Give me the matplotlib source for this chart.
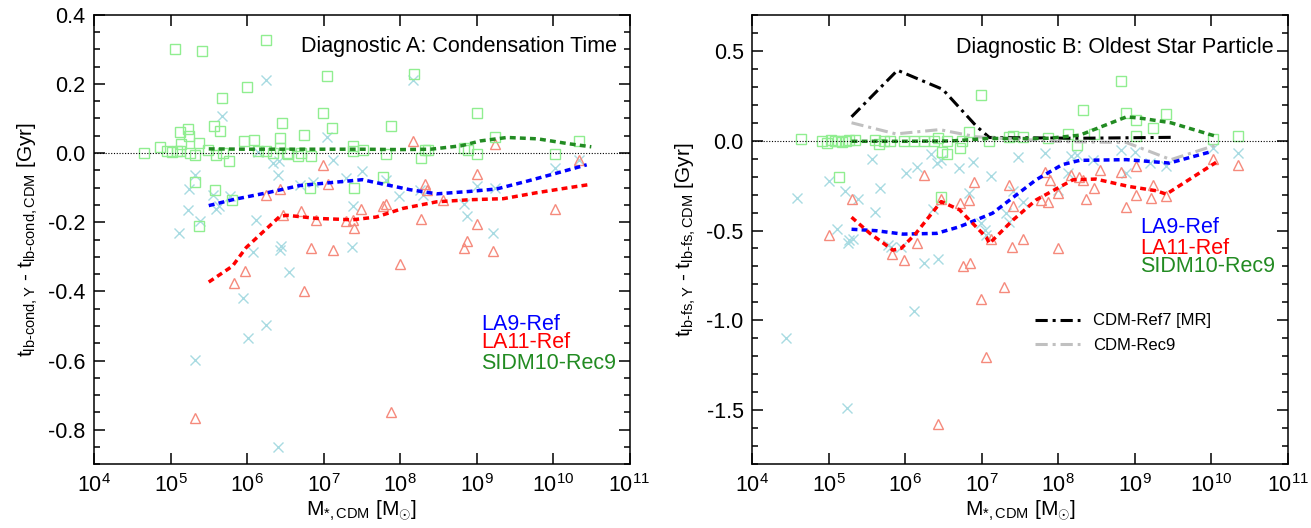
import numpy as np
import matplotlib
matplotlib.use("Agg")
import matplotlib.pyplot as plt
from matplotlib.ticker import MultipleLocator, LogLocator, NullLocator, FormatStrFormatter

plt.rcParams['font.family'] = ['Liberation Sans', 'DejaVu Sans']
plt.rcParams['mathtext.fontset'] = 'custom'
plt.rcParams['mathtext.rm'] = 'Liberation Sans'
plt.rcParams['mathtext.it'] = 'Liberation Sans:italic'
plt.rcParams['axes.unicode_minus'] = False

# ---- Panel A: condensation time (log10 M*, delta t in Gyr) ----
a_la9_logm = [6.25, 5.67, 7.05, 7.13, 6.34, 6.42, 6.41, 5.32, 5.24, 5.56, 5.78, 5.64, 5.60, 5.23,
              5.11, 5.38, 6.12, 6.69, 6.86, 7.30, 7.50, 7.39, 6.45, 7.37, 6.15, 6.08, 6.43, 6.55,
              5.95, 6.25, 6.01, 5.32, 6.40, 8.17, 7.82, 7.99, 8.26, 8.30, 8.83, 8.88, 9.01, 9.22,
              9.24, 10.02, 10.34]
a_la9_dt = [0.21, 0.108, 0.046, -0.019, -0.029, -0.023, -0.063, -0.063, -0.104, -0.12, -0.125,
            -0.154, -0.161, -0.164, -0.231, -0.197, -0.193, -0.093, -0.085, -0.072, -0.053, -0.154,
            -0.27, -0.271, 0.002, -0.287, -0.281, -0.345, -0.418, -0.497, -0.534, -0.599, -0.851,
            0.21, -0.077, -0.123, -0.106, -0.12, -0.146, -0.183, -0.096, -0.231, -0.101, -0.043,
            -0.019]

a_la11_logm = [6.99, 6.25, 6.43, 7.06, 6.47, 6.70, 6.90, 7.29, 7.39, 7.40, 7.49, 6.84, 7.13, 5.98,
               5.83, 6.74, 5.32, 8.00, 8.83, 8.88, 9.22, 7.88, 8.17, 9.24, 9.00, 8.32, 8.35, 8.56,
               7.78, 7.82, 8.27, 9.01, 10.02, 10.34]
a_la11_dt = [-0.036, -0.122, -0.104, -0.089, -0.178, -0.167, -0.193, -0.197, -0.193, -0.217, -0.162,
             -0.274, -0.279, -0.342, -0.377, -0.399, -0.765, -0.322, -0.274, -0.255, -0.284, -0.749,
             0.036, 0.027, -0.06, -0.089, -0.106, -0.137, -0.154, -0.146, -0.19, -0.204, -0.162,
             -0.021]

a_sidm_logm = [5.06, 5.41, 6.25, 7.05, 6.00, 5.67, 6.99, 6.46, 5.57, 5.65, 5.13, 5.23, 5.24, 7.11,
               6.74, 5.96, 6.09, 6.43, 5.37, 5.14, 4.86, 4.65, 4.95, 5.02, 5.08, 5.12, 5.25, 5.32,
               5.49, 5.60, 5.69, 5.77, 6.14, 6.25, 6.34, 6.43, 6.52, 6.54, 6.67, 6.71, 6.84, 7.39,
               7.39, 7.52, 5.32, 5.58, 5.81, 5.37, 6.82, 7.40, 8.18, 7.88, 9.00, 9.24, 7.82, 8.27,
               8.32, 8.37, 8.83, 8.89, 9.00, 10.02, 10.34, 7.78]
a_sidm_dt = [0.30, 0.296, 0.326, 0.223, 0.192, 0.158, 0.117, 0.088, 0.077, 0.063, 0.062, 0.069, 0.048,
             0.072, 0.051, 0.035, 0.038, 0.043, 0.029, 0.026, 0.017, -0.001, 0.005, 0.004, 0.006,
             0.005, 0.0, -0.005, 0.01, -0.005, 0.0, -0.024, 0.005, 0.005, 0.0, 0.015, 0.0, -0.002,
             -0.01, 0.0, -0.008, 0.019, 0.005, 0.01, -0.085, -0.106, -0.135, -0.212, -0.101, -0.101,
             0.229, 0.079, 0.115, 0.045, -0.002, -0.014, 0.01, 0.01, 0.015, 0.008, -0.002, -0.002,
             0.035, -0.069]

a_la9_med_logm = [5.50, 5.81, 6.26, 6.69, 7.12, 7.51, 7.61, 8.13, 8.48, 8.91, 9.26, 9.65, 10.05, 10.44]
a_la9_med_dt = [-0.152, -0.135, -0.115, -0.094, -0.085, -0.077, -0.082, -0.106, -0.118, -0.111,
                -0.104, -0.082, -0.058, -0.034]
a_la11_med_logm = [5.50, 5.81, 5.99, 6.43, 6.52, 6.91, 7.38, 7.69, 8.04, 8.48, 8.91, 9.35, 9.78, 10.21, 10.48]
a_la11_med_dt = [-0.373, -0.327, -0.273, -0.183, -0.180, -0.189, -0.193, -0.185, -0.160, -0.141,
                 -0.135, -0.132, -0.115, -0.100, -0.091]
a_sidm_med_logm = [5.5, 6.0, 6.5, 7.0, 7.5, 8.0, 8.4, 8.8, 9.05, 9.4, 9.8, 10.2, 10.5]
a_sidm_med_dt = [0.012, 0.011, 0.011, 0.011, 0.011, 0.010, 0.011, 0.021, 0.035, 0.045, 0.041, 0.027, 0.018]

# ---- Panel B: oldest star particle ----
b_la9_logm = [4.59, 5.57, 5.00, 5.22, 5.38, 5.67, 5.60, 5.11, 6.01, 6.15, 6.34, 6.41, 6.47, 6.70,
              6.88, 7.12, 7.48, 6.37, 6.84, 6.99, 7.04, 7.32, 7.36, 7.41, 7.54, 5.27, 5.32, 5.26,
              5.77, 5.95, 5.82, 6.24, 6.43, 6.12, 4.45, 5.24, 7.06, 7.82, 8.17, 8.25, 8.45, 8.82,
              9.00, 9.20, 9.40, 8.89, 8.12, 7.99, 10.02, 10.34]
b_la9_dt = [-0.322, -0.102, -0.222, -0.278, -0.326, -0.264, -0.395, -0.493, -0.18, -0.147, -0.073,
            -0.125, -0.11, -0.153, -0.119, -0.196, -0.091, -0.382, -0.292, -0.456, -0.497, -0.404,
            -0.451, -0.283, -0.339, -0.553, -0.549, -0.572, -0.581, -0.59, -0.59, -0.678, -0.656,
            -0.948, -1.097, -1.488, -0.525, -0.069, -0.088, -0.078, -0.11, -0.05, -0.065, -0.125,
            -0.143, -0.181, -0.181, -0.274, -0.041, -0.069]

b_la11_logm = [6.24, 6.90, 7.36, 5.31, 6.47, 6.71, 6.83, 7.41, 5.00, 6.16, 7.12, 7.39, 7.54, 5.83,
               5.98, 6.75, 6.85, 6.99, 7.29, 7.05, 6.43, 7.82, 7.89, 8.16, 8.27, 8.32, 8.55, 8.82,
               9.01, 8.46, 8.36, 7.78, 7.86, 7.99, 9.01, 8.89, 9.21, 9.23, 9.40, 10.02, 10.34, 7.99]
b_la11_dt = [-0.19, -0.233, -0.246, -0.324, -0.326, -0.345, -0.333, -0.363, -0.525, -0.572, -0.549,
             -0.59, -0.549, -0.628, -0.665, -0.698, -0.68, -0.879, -0.814, -1.205, -1.574, -0.177,
             -0.218, -0.19, -0.2, -0.218, -0.166, -0.177, -0.14, -0.261, -0.326, -0.33, -0.339,
             -0.292, -0.302, -0.37, -0.32, -0.246, -0.307, -0.102, -0.134, -0.6]

b_sidm_logm = [4.64, 4.92, 4.98, 5.03, 5.08, 5.12, 5.17, 5.23, 5.27, 5.35, 5.60, 5.66, 5.72, 5.80,
               5.99, 6.12, 6.25, 6.38, 6.43, 6.48, 6.54, 6.55, 6.71, 6.74, 6.83, 6.99, 7.09, 7.36,
               7.41, 7.54, 5.13, 6.47, 8.82, 8.32, 8.88, 9.01, 9.40, 9.23, 7.86, 8.12, 8.47, 8.25,
               9.01, 10.02, 10.34]
b_sidm_dt = [0.009, 0.0, -0.015, 0.005, 0.0, -0.005, -0.01, 0.0, 0.005, 0.002, 0.003, -0.02, 0.0,
             0.0, 0.0, 0.0, 0.0, -0.005, 0.015, -0.065, -0.073, 0.0, -0.041, -0.004, 0.046, 0.251,
             0.0, 0.02, 0.025, 0.02, -0.2, -0.311, 0.331, 0.168, 0.151, 0.117, 0.149, 0.071, 0.015,
             0.034, 0.034, -0.022, 0.024, 0.009, 0.024]

b_la9_med_logm = [5.30, 5.62, 5.97, 6.41, 6.71, 7.14, 7.71, 8.05, 8.28, 8.89, 9.45, 10.01]
b_la9_med_dt = [-0.493, -0.501, -0.520, -0.516, -0.479, -0.404, -0.218, -0.134, -0.110, -0.106,
                -0.125, -0.060]
b_la11_med_logm = [5.30, 5.54, 5.84, 5.95, 6.14, 6.47, 6.71, 7.06, 7.10, 7.41, 7.71, 8.19, 8.49,
                   8.92, 9.28, 9.41, 10.06]
b_la11_med_dt = [-0.426, -0.516, -0.609, -0.599, -0.516, -0.339, -0.385, -0.538, -0.572, -0.441,
                 -0.330, -0.218, -0.214, -0.255, -0.279, -0.298, -0.121]
b_sidm_med_logm = [5.30, 6.0, 6.6, 7.1, 7.62, 7.88, 8.28, 8.89, 9.10, 9.47, 10.08]
b_sidm_med_dt = [-0.004, -0.004, -0.002, 0.012, 0.011, 0.013, 0.030, 0.132, 0.123, 0.099, 0.021]
b_ref7_med_logm = [5.30, 5.90, 6.49, 6.93, 7.10, 8.28, 9.47]
b_ref7_med_dt = [0.132, 0.391, 0.285, 0.080, 0.017, 0.013, 0.018]
b_rec9_med_logm = [5.30, 5.88, 6.45, 6.93, 8.06, 8.89, 9.47, 10.08]
b_rec9_med_dt = [0.099, 0.037, 0.061, 0.021, -0.006, -0.011, -0.106, -0.022]

C_LA9, C_LA11, C_SIDM = 'blue', 'red', 'forestgreen'
DASH = (0, (1.7, 1.2))
DASHDOT = (0, (4, 1.6, 1, 1.6))


def scatter_set(ax, la9, la11, sidm):
    ax.plot(10 ** np.array(la9[0]), la9[1], 'x', color='#a8dbe2', ms=7, mew=1.0, ls='none')
    ax.plot(10 ** np.array(la11[0]), la11[1], '^', color='#f58a7c', ms=7, mew=1.0,
            mfc='none', ls='none')
    ax.plot(10 ** np.array(sidm[0]), sidm[1], 's', color='#90ee90', ms=7, mew=1.0,
            mfc='none', ls='none')


def style_axes(ax, ylim, major, minor):
    ax.set_xscale('log')
    ax.set_xlim(1e4, 1e11)
    ax.set_ylim(*ylim)
    ax.xaxis.set_major_locator(LogLocator(base=10, numticks=20))
    ax.xaxis.set_minor_locator(NullLocator())
    ax.yaxis.set_major_locator(MultipleLocator(major))
    ax.yaxis.set_minor_locator(MultipleLocator(minor))
    ax.yaxis.set_major_formatter(FormatStrFormatter('%.1f'))
    ax.tick_params(which='both', direction='in', top=True, right=True, width=1.1)
    ax.tick_params(which='major', length=8)
    ax.tick_params(which='minor', length=4.5)
    ax.tick_params(axis='y', labelsize=15.5, pad=6)
    ax.tick_params(axis='x', labelsize=15.5, pad=7)
    for s in ax.spines.values():
        s.set_linewidth(1.1)
    ax.axhline(0, color='black', lw=0.8, ls=(0, (1, 1.5)))
    ax.set_xlabel(r'M$_{*,\mathrm{CDM}}$ [M$_{\odot}$]', fontsize=15, labelpad=1)


fig = plt.figure(figsize=(13.11, 5.28), dpi=100)
axA = fig.add_axes([0.0717, 0.1206, 0.4085, 0.8516])
axB = fig.add_axes([0.5736, 0.1206, 0.4089, 0.8516])

# Panel A
scatter_set(axA, (a_la9_logm, a_la9_dt), (a_la11_logm, a_la11_dt), (a_sidm_logm, a_sidm_dt))
axA.plot(10 ** np.array(a_la9_med_logm), a_la9_med_dt, color=C_LA9, lw=2.5, ls=DASH)
axA.plot(10 ** np.array(a_la11_med_logm), a_la11_med_dt, color=C_LA11, lw=2.5, ls=DASH)
axA.plot(10 ** np.array(a_sidm_med_logm), a_sidm_med_dt, color=C_SIDM, lw=2.5, ls=DASH)
style_axes(axA, (-0.9, 0.4), 0.2, 0.05)
axA.set_ylabel(r't$_{\mathrm{lb\text{-}cond,Y}}$ - t$_{\mathrm{lb\text{-}cond,CDM}}$ [Gyr]',
               fontsize=15, labelpad=6)
axA.text(0.977, 0.929, 'Diagnostic A: Condensation Time', transform=axA.transAxes,
         ha='right', va='center', fontsize=15.5)
for txt, col, yy in [('LA9-Ref', C_LA9, 0.312), ('LA11-Ref', C_LA11, 0.270),
                     ('SIDM10-Rec9', C_SIDM, 0.225)]:
    axA.text(0.7226, yy, txt, color=col, transform=axA.transAxes, ha='left', va='center',
             fontsize=15.5)

# Panel B
scatter_set(axB, (b_la9_logm, b_la9_dt), (b_la11_logm, b_la11_dt), (b_sidm_logm, b_sidm_dt))
axB.plot(10 ** np.array(b_ref7_med_logm), b_ref7_med_dt, color='black', lw=2.2,
         ls=DASHDOT, label='CDM-Ref7 [MR]')
axB.plot(10 ** np.array(b_rec9_med_logm), b_rec9_med_dt, color='#c0c0c0', lw=2.2,
         ls=DASHDOT, label='CDM-Rec9')
axB.plot(10 ** np.array(b_la9_med_logm), b_la9_med_dt, color=C_LA9, lw=2.5, ls=DASH)
axB.plot(10 ** np.array(b_la11_med_logm), b_la11_med_dt, color=C_LA11, lw=2.5, ls=DASH)
axB.plot(10 ** np.array(b_sidm_med_logm), b_sidm_med_dt, color=C_SIDM, lw=2.5, ls=DASH)
style_axes(axB, (-1.8, 0.7), 0.5, 0.1)
axB.set_ylabel(r't$_{\mathrm{lb\text{-}fs,Y}}$ - t$_{\mathrm{lb\text{-}fs,CDM}}$ [Gyr]',
               fontsize=15, labelpad=6)
axB.text(0.974, 0.927, 'Diagnostic B: Oldest Star Particle', transform=axB.transAxes,
         ha='right', va='center', fontsize=15.5)
for txt, col, yy in [('LA9-Ref', C_LA9, 0.526), ('LA11-Ref', C_LA11, 0.481),
                     ('SIDM10-Rec9', C_SIDM, 0.439)]:
    axB.text(0.724, yy, txt, color=col, transform=axB.transAxes, ha='left', va='center',
             fontsize=15.5)
axB.legend(loc='center left', bbox_to_anchor=(0.528, 0.292), frameon=False, fontsize=12,
           handlelength=2.7, handletextpad=0.8, labelspacing=0.55, borderpad=0,
           borderaxespad=0)

fig.savefig('out.png', dpi=100)
